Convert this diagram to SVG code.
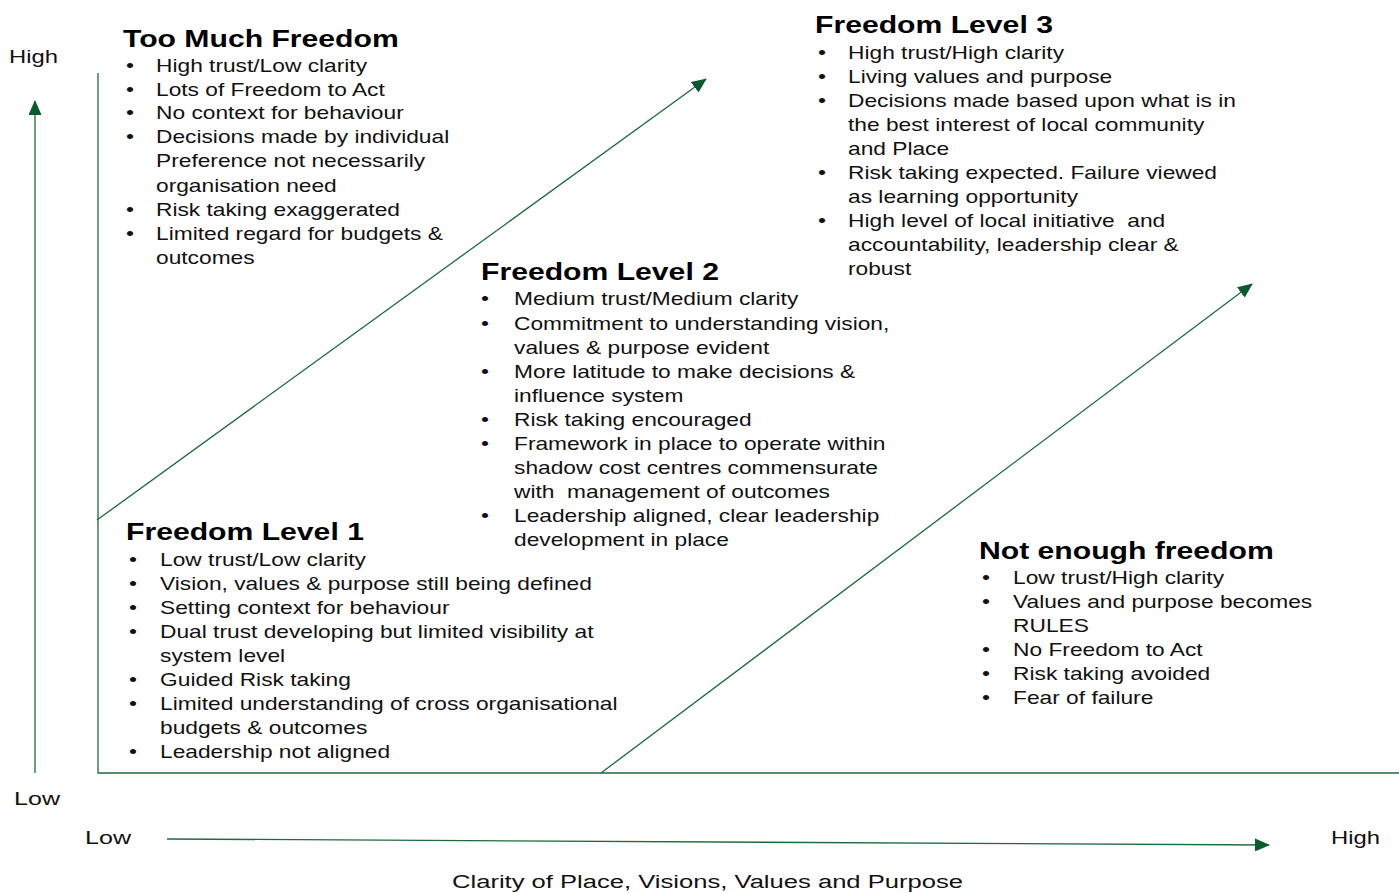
<svg xmlns="http://www.w3.org/2000/svg" width="1399" height="893" viewBox="0 0 1399 893">
<style>
.t{font-family:"Liberation Sans",Arial,sans-serif;font-size:17.5px;fill:#111}
.h{font-family:"Liberation Sans",Arial,sans-serif;font-size:23.2px;font-weight:bold;fill:#000}
.ax{font-family:"Liberation Sans",Arial,sans-serif;font-size:18px;fill:#111}
.ln{stroke:#1d6a3c;stroke-width:1.3;fill:none}
</style>
<defs>
<marker id="ah" viewBox="0 0 15 13" refX="14" refY="6.5" markerWidth="15" markerHeight="13" markerUnits="userSpaceOnUse" orient="auto">
<path d="M0,0 L15,6.5 L0,13 z" fill="#0b5a2b"/>
</marker>
</defs>
<rect width="1399" height="893" fill="#fff"/>
<g id="connectors">
<line class="ln" x1="35" y1="773" x2="35" y2="101" marker-end="url(#ah)"/>
<polyline class="ln" points="98,73 98,773 1399,773"/>
<line class="ln" x1="97" y1="520" x2="706" y2="79" marker-end="url(#ah)"/>
<line class="ln" x1="601" y1="773" x2="1252" y2="284" marker-end="url(#ah)"/>
<line class="ln" x1="167" y1="839" x2="1269" y2="845" marker-end="url(#ah)"/>
</g>
<g id="axis-labels">
<text class="ax" x="9" y="63" textLength="49" lengthAdjust="spacingAndGlyphs">High</text>
<text class="ax" x="14" y="805" textLength="46" lengthAdjust="spacingAndGlyphs">Low</text>
<text class="ax" x="85" y="844" textLength="46" lengthAdjust="spacingAndGlyphs">Low</text>
<text class="ax" x="1331" y="844" textLength="49" lengthAdjust="spacingAndGlyphs">High</text>
<text class="ax" x="452" y="888" textLength="511" lengthAdjust="spacingAndGlyphs">Clarity of Place, Visions, Values and Purpose</text>
</g>
<g id="too-much-freedom" transform="translate(123 0) scale(1.3 1)">
<text class="h" x="0" y="47">Too Much Freedom</text>
<text class="t" x="2.3" y="72">•</text><text class="t" x="25.4" y="72">High trust/Low clarity</text>
<text class="t" x="2.3" y="96">•</text><text class="t" x="25.4" y="96">Lots of Freedom to Act</text>
<text class="t" x="2.3" y="119">•</text><text class="t" x="25.4" y="119">No context for behaviour</text>
<text class="t" x="2.3" y="143">•</text><text class="t" x="25.4" y="143">Decisions made by individual</text>
<text class="t" x="25.4" y="167">Preference not necessarily</text>
<text class="t" x="25.4" y="192">organisation need</text>
<text class="t" x="2.3" y="216">•</text><text class="t" x="25.4" y="216">Risk taking exaggerated</text>
<text class="t" x="2.3" y="240">•</text><text class="t" x="25.4" y="240">Limited regard for budgets &amp;</text>
<text class="t" x="25.4" y="264">outcomes</text>
</g>
<g id="freedom-level-2" transform="translate(481 0) scale(1.3 1)">
<text class="h" x="0" y="280">Freedom Level 2</text>
<text class="t" x="0" y="305">•</text><text class="t" x="25.4" y="305">Medium trust/Medium clarity</text>
<text class="t" x="0" y="330">•</text><text class="t" x="25.4" y="330">Commitment to understanding vision,</text>
<text class="t" x="25.4" y="354">values &amp; purpose evident</text>
<text class="t" x="0" y="378">•</text><text class="t" x="25.4" y="378">More latitude to make decisions &amp;</text>
<text class="t" x="25.4" y="402">influence system</text>
<text class="t" x="0" y="426">•</text><text class="t" x="25.4" y="426">Risk taking encouraged</text>
<text class="t" x="0" y="450">•</text><text class="t" x="25.4" y="450">Framework in place to operate within</text>
<text class="t" x="25.4" y="474">shadow cost centres commensurate</text>
<text class="t" x="25.4" y="498">with&#160; management of outcomes</text>
<text class="t" x="0" y="522">•</text><text class="t" x="25.4" y="522">Leadership aligned, clear leadership</text>
<text class="t" x="25.4" y="546">development in place</text>
</g>
<g id="freedom-level-3" transform="translate(815 0) scale(1.3 1)">
<text class="h" x="0" y="33">Freedom Level 3</text>
<text class="t" x="2.3" y="59">•</text><text class="t" x="25.4" y="59">High trust/High clarity</text>
<text class="t" x="2.3" y="83">•</text><text class="t" x="25.4" y="83">Living values and purpose</text>
<text class="t" x="2.3" y="107">•</text><text class="t" x="25.4" y="107">Decisions made based upon what is in</text>
<text class="t" x="25.4" y="131">the best interest of local community</text>
<text class="t" x="25.4" y="155">and Place</text>
<text class="t" x="2.3" y="179">•</text><text class="t" x="25.4" y="179">Risk taking expected. Failure viewed</text>
<text class="t" x="25.4" y="203">as learning opportunity</text>
<text class="t" x="2.3" y="227">•</text><text class="t" x="25.4" y="227">High level of local initiative&#160; and</text>
<text class="t" x="25.4" y="251">accountability, leadership clear &amp;</text>
<text class="t" x="25.4" y="275">robust</text>
</g>
<g id="freedom-level-1" transform="translate(126 0) scale(1.3 1)">
<text class="h" x="0" y="540">Freedom Level 1</text>
<text class="t" x="2.3" y="566">•</text><text class="t" x="26.2" y="566">Low trust/Low clarity</text>
<text class="t" x="2.3" y="590">•</text><text class="t" x="26.2" y="590">Vision, values &amp; purpose still being defined</text>
<text class="t" x="2.3" y="614">•</text><text class="t" x="26.2" y="614">Setting context for behaviour</text>
<text class="t" x="2.3" y="638">•</text><text class="t" x="26.2" y="638">Dual trust developing but limited visibility at</text>
<text class="t" x="26.2" y="662">system level</text>
<text class="t" x="2.3" y="686">•</text><text class="t" x="26.2" y="686">Guided Risk taking</text>
<text class="t" x="2.3" y="710">•</text><text class="t" x="26.2" y="710">Limited understanding of cross organisational</text>
<text class="t" x="26.2" y="734">budgets &amp; outcomes</text>
<text class="t" x="2.3" y="758">•</text><text class="t" x="26.2" y="758">Leadership not aligned</text>
</g>
<g id="not-enough-freedom" transform="translate(979 0) scale(1.3 1)">
<text class="h" x="0" y="559">Not enough freedom</text>
<text class="t" x="2.3" y="584">•</text><text class="t" x="26.2" y="584">Low trust/High clarity</text>
<text class="t" x="2.3" y="608">•</text><text class="t" x="26.2" y="608">Values and purpose becomes</text>
<text class="t" x="26.2" y="632">RULES</text>
<text class="t" x="2.3" y="656">•</text><text class="t" x="26.2" y="656">No Freedom to Act</text>
<text class="t" x="2.3" y="680">•</text><text class="t" x="26.2" y="680">Risk taking avoided</text>
<text class="t" x="2.3" y="704">•</text><text class="t" x="26.2" y="704">Fear of failure</text>
</g>
</svg>
